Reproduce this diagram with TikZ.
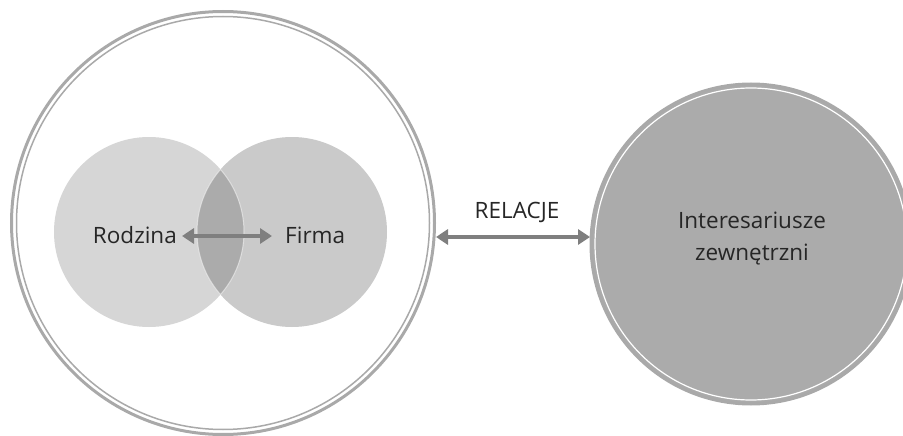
\documentclass[tikz,border=0pt]{standalone}
\usepackage{fontspec}
\setmainfont{Open Sans}
\usetikzlibrary{arrows.meta}
\definecolor{ringgray}{HTML}{A9A9A9}
\definecolor{leftfill}{HTML}{D6D6D6}
\definecolor{rightfill}{HTML}{CACACA}
\definecolor{overlapfill}{HTML}{ABABAB}
\definecolor{extfill}{HTML}{ABABAB}
\definecolor{arrowgray}{HTML}{7F7F7F}
\definecolor{txt}{HTML}{262626}
\tikzset{
  lbl/.style={text=txt, font=\fontsize{22.5}{32}\selectfont, inner sep=0pt},
  dblarrow/.style={draw=arrowgray, line width=4pt, {Triangle[length=12pt,width=15pt]}-{Triangle[length=12pt,width=15pt]}},
}
\begin{document}
\begin{tikzpicture}[x=1pt,y=-1pt]
\useasboundingbox (0,0) rectangle (903,436);
\clip (0,0) rectangle (903,436);
% big outer circle with double ring
\draw[ringgray, line width=3pt] (223,223) circle (211.5);
\draw[ringgray, line width=1.5pt] (223,223) circle (206.5);
% venn circles
\fill[leftfill] (149,232) circle (95);
\fill[rightfill] (292,232) circle (95);
\begin{scope}
  \clip (149,232) circle (95);
  \fill[overlapfill] (292,232) circle (95);
  \draw[white, opacity=0.5, line width=1pt] (292,232) circle (95);
\end{scope}
\begin{scope}
  \clip (292,232) circle (95);
  \draw[white, opacity=0.5, line width=1pt] (149,232) circle (95);
\end{scope}
% right circle
\fill[extfill] (751,244) circle (160);
\draw[ringgray, line width=3pt] (751,244) circle (160);
\draw[white, line width=1.2pt] (751,244) circle (156);
% labels
\node[lbl, anchor=east] (rod) at (177,235) {Rodzina};
\node[lbl, anchor=west] (fir) at (285,235) {Firma};
\node[lbl] (rel) at (517,212) {RELACJE};
\node[lbl, align=center] (ext) at (752,239) {Interesariusze\\zewnętrzni};
% connectors
\coordinate (rodE) at (182,236);
\coordinate (firW) at (272,236);
\coordinate (bigE) at (436,237);
\coordinate (extW) at (590,237);
\draw[dblarrow] (rodE) -- (firW);
\draw[dblarrow] (bigE) -- (extW);
\end{tikzpicture}
\end{document}
